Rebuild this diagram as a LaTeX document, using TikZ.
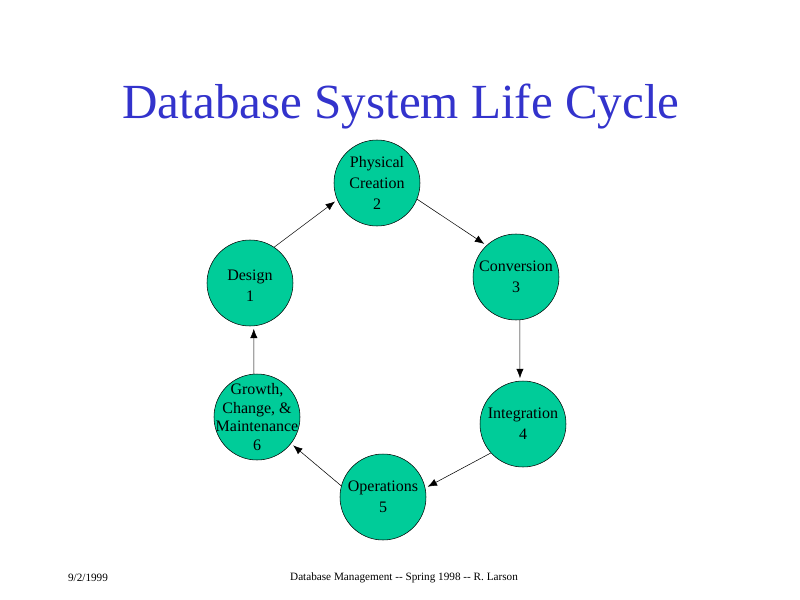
\documentclass[tikz,border=0pt]{standalone}
\usepackage{fontspec}
\setmainfont{Liberation Serif}
\usetikzlibrary{arrows.meta}
\definecolor{stagegreen}{RGB}{0,204,153}
\definecolor{titleblue}{RGB}{51,51,204}
\begin{document}
\begin{tikzpicture}[x=0.75pt,y=-0.75pt]
	\tikzset{>={Latex[length=7pt,width=5.5pt]}}
	\tikzset{stage/.style={circle,draw=black,fill=stagegreen,minimum size=64.5pt,inner sep=0pt}}
	\tikzset{stagetext/.style={align=center,inner sep=0pt,font=\fontsize{12}{16}\selectfont}}
	\tikzset{flow/.style={->,thin,shorten >=2pt}}
	\useasboundingbox (0,0) rectangle (800,600);
	
	\node[titleblue,font=\fontsize{36.8}{40}\selectfont] (title) at (401,107) {Database System Life Cycle};
	
	\node[stage,label={[stagetext,yshift=-2pt]center:Design\\1}] (design) at (250,283) {};
	\node[stage,label={[stagetext]center:Physical\\Creation\\2}] (creation) at (377,183) {};
	\node[stage,label={[stagetext]center:Conversion\\3}] (conversion) at (516,277) {};
	\node[stage,label={[stagetext]center:Integration\\4}] (integration) at (523,424) {};
	\node[stage,label={[stagetext]center:Operations\\5}] (operations) at (383,497) {};
	\node[stage,label={[stagetext,font=\fontsize{12}{14}\selectfont]center:Growth,\\Change, \&\\Maintenance\\6}] (growth) at (257,417) {};
	
	\draw[flow] (design.56) -- (creation.203);
	\draw[flow] (creation.338) -- (conversion.133);
	\draw[flow] (conversion.275) -- (integration.94);
	\draw[flow] (integration.222) -- (operations.12);
	\draw[flow] (operations.165) -- (growth.322);
	\draw[flow] (growth.94) -- (design.275);
	
	\node[font=\fontsize{8.4}{10}\selectfont] (date) at (88,578) {9/2/1999};
	\node[font=\fontsize{8.4}{10}\selectfont] (footer) at (404,578) {Database Management -{}- Spring 1998 -{}- R. Larson};
\end{tikzpicture}
\end{document}
